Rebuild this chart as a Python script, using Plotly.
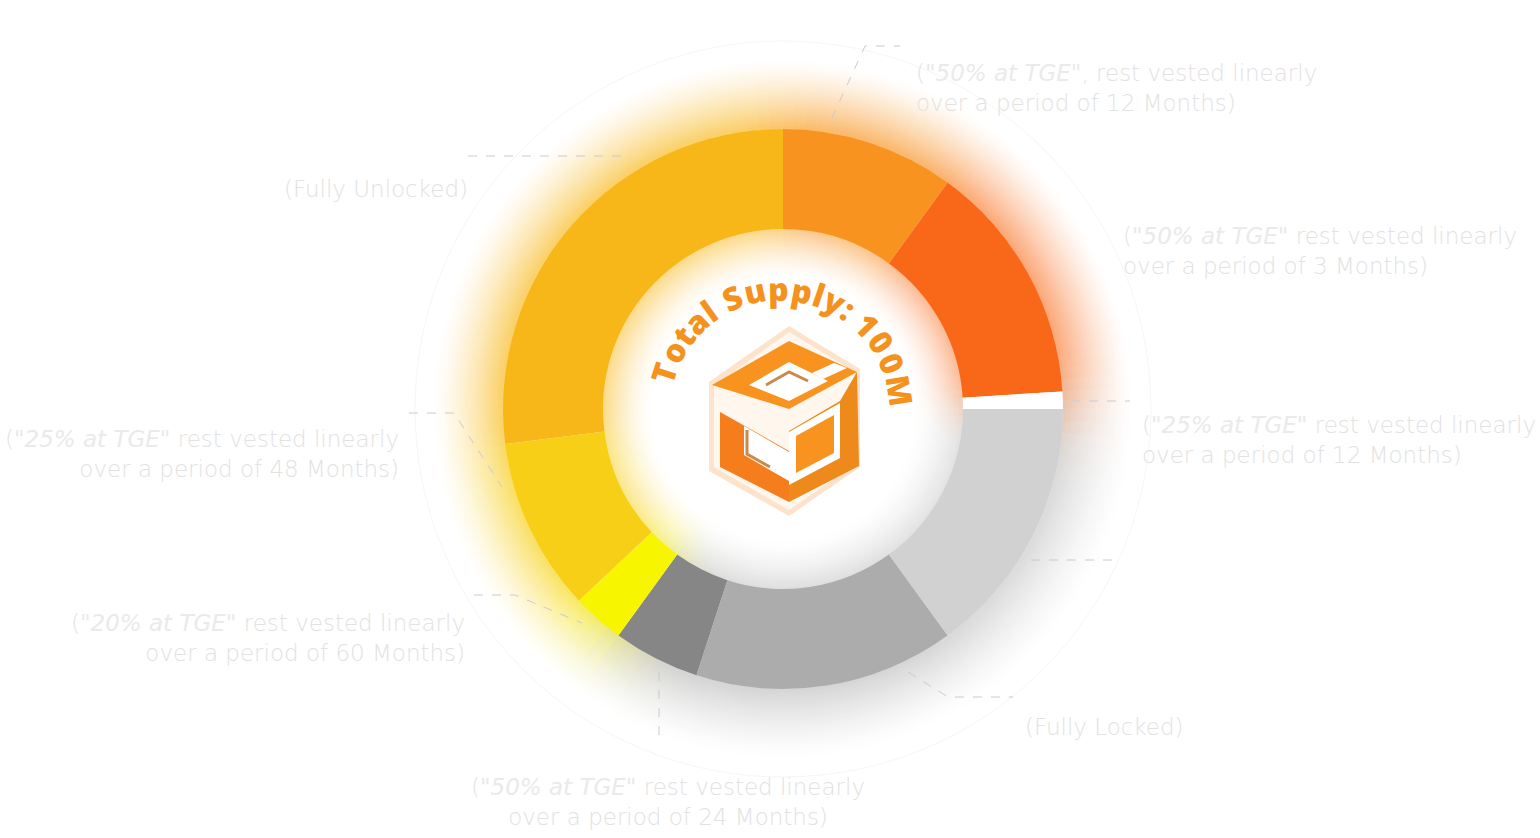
import math
import plotly.graph_objects as go

W, H = 1540, 838

# ---------------- data ----------------
values = [10, 14, 1, 15, 15, 5, 3, 10, 27]
colors = ["#F7931E", "#F96818", "#FFFFFF", "#D1D1D1", "#ACACAC",
          "#868686", "#F8F500", "#F7CF17", "#F8B719"]
vesting_labels = [
    '(<i>"50% at TGE"</i>, rest vested linearly<br>over a period of 12 Months)',
    '(<i>"50% at TGE"</i> rest vested linearly<br>over a period of 3 Months)',
    '(<i>"25% at TGE"</i> rest vested linearly<br>over a period of 12 Months)',
    '',
    '(Fully Locked)',
    '(<i>"50% at TGE"</i> rest vested linearly<br>over a period of 24 Months)',
    '(<i>"20% at TGE"</i> rest vested linearly<br>over a period of 60 Months)',
    '(<i>"25% at TGE"</i> rest vested linearly<br>over a period of 48 Months)',
    '(Fully Unlocked)',
]
center_title = "Total Supply: 100M"

# ---------------- styling / layout geometry ----------------
glow_colors = ["#F7931E", "#F97A30", "#FA9050", "#C8C8C8", "#C0C0C0",
               "#BBBBBB", "#F8F200", "#F7CF17", "#F8B719"]
CX, CY = 783, 409
R_OUT, R_IN = 280, 180

label_pos = [(914, 88, 'left'), (1121, 251, 'left'), (1140, 440, 'left'), None,
             (1023, 727, 'left'), (668, 802, 'center'), (467, 638, 'right'),
             (401, 454, 'right'), (470, 189, 'right')]
leaders = [
    [(832, 118), (865, 46), (900, 46)],
    None,
    [(1071, 401), (1130, 401)],
    [(1031, 560), (1117, 560)],
    [(908, 672), (948, 697), (1013, 697)],
    [(659, 672), (659, 740)],
    [(474, 595), (515, 595), (582, 623)],
    [(409, 413), (454, 413), (502, 487)],
    [(468, 156), (630, 156)],
]


def dom(r, cy=CY):
    return dict(x=[(CX - r) / W, (CX + r) / W],
                y=[(H - cy - r) / H, (H - cy + r) / H])


def hex2rgb(h):
    h = h.lstrip('#')
    return [int(h[0:2], 16), int(h[2:4], 16), int(h[4:6], 16)]


# ---- glow: each segment split into sub-slices, colours blurred along the ring
total = sum(values)
bounds = []
acc = 0
for v in values:
    bounds.append((acc / total * 360, (acc + v) / total * 360))
    acc += v


def seg_at(angle):
    angle %= 360
    for i, (a0, a1) in enumerate(bounds):
        if a0 <= angle < a1:
            return i
    return len(values) - 1


glow_vals, glow_rgb = [], []
BLUR = 18  # degrees
for i, v in enumerate(values):
    n = max(2, int(round(v * 1.5)))
    a0, a1 = bounds[i]
    for j in range(n):
        glow_vals.append(v / n)
        ac = a0 + (j + 0.5) * (a1 - a0) / n
        acc_rgb = [0.0, 0.0, 0.0]
        wsum = 0.0
        for d in range(-BLUR, BLUR + 1):
            wgt = math.exp(-(d / (BLUR / 2)) ** 2)
            c = hex2rgb(glow_colors[seg_at(ac + d)])
            for q in range(3):
                acc_rgb[q] += wgt * c[q]
            wsum += wgt
        glow_rgb.append([x / wsum for x in acc_rgb])


def tint(f):
    out = []
    for r, g, b in glow_rgb:
        out.append("rgb(%d,%d,%d)" % (round(255 + (r - 255) * f),
                                      round(255 + (g - 255) * f),
                                      round(255 + (b - 255) * f)))
    return out


fig = go.Figure()

base = dict(sort=False, direction='clockwise', rotation=0,
            textinfo='none', hoverinfo='skip', showlegend=False)

# outer glow: opaque thin annuli, fading to white
STEP = 2.5
N_OUT, EXT_OUT, F_OUT = 28, 70.0, 0.66
for k in range(N_OUT, 0, -1):
    r1 = R_OUT + k * STEP
    r0 = r1 - STEP
    d = (k - 0.5) * STEP
    f = F_OUT * max(0.0, 1 - d / EXT_OUT) ** 1.4
    cols = tint(f)
    fig.add_trace(go.Pie(values=glow_vals, **base, hole=r0 / r1, domain=dom(r1),
                         marker=dict(colors=cols, line=dict(color=cols, width=1))))
# inner glow
N_IN, EXT_IN, F_IN = 20, 50.0, 0.52
for k in range(1, N_IN + 1):
    r1 = R_IN - (k - 1) * STEP
    r0 = r1 - STEP
    d = (k - 0.5) * STEP
    f = F_IN * max(0.0, 1 - d / EXT_IN) ** 1.5
    cols = tint(f)
    fig.add_trace(go.Pie(values=glow_vals, **base, hole=r0 / r1, domain=dom(r1),
                         marker=dict(colors=cols, line=dict(color=cols, width=1))))
# main donut
fig.add_trace(go.Pie(values=values, **base, hole=R_IN / R_OUT, domain=dom(R_OUT),
                     marker=dict(colors=colors, line=dict(width=0))))

shapes = []
# faint outer circle
RC = 368
shapes.append(dict(type='circle', xref='x', yref='y', x0=CX - RC, x1=CX + RC,
                   y0=CY - RC, y1=CY + RC, line=dict(color='#F6F6F6', width=1),
                   layer='below'))

# leader lines
for pts in leaders:
    if not pts:
        continue
    p = "M " + " L ".join(f"{x},{y}" for x, y in pts)
    shapes.append(dict(type='path', xref='x', yref='y', path=p,
                       line=dict(color='#CACAD2', width=1, dash='dash'),
                       layer='above'))


def poly(pts, fill, layer='above'):
    p = "M " + " L ".join(f"{x},{y}" for x, y in pts) + " Z"
    return dict(type='path', xref='x', yref='y', path=p, fillcolor=fill,
                line=dict(width=0), layer=layer)


def line(pts, color, width):
    p = "M " + " L ".join(f"{x},{y}" for x, y in pts)
    return dict(type='path', xref='x', yref='y', path=p,
                line=dict(color=color, width=width), layer='above')


# logo (cube)
shapes += [
    poly([(789, 326), (860, 369), (860, 467), (789, 516), (709, 471), (709, 382)], '#FDE3CB'),
    poly([(789, 332), (855, 372), (855, 464), (789, 510), (714, 467), (714, 386)], '#FFF6EE'),
    poly([(712, 385), (789, 341), (857, 372), (789, 409)], '#F7931E'),
    poly([(749, 385), (789, 362), (828, 381), (789, 401)], '#FFFFFF'),
    poly([(812, 373), (834, 363), (847, 368), (823, 379)], '#FFFFFF'),
    line([(766, 385), (789, 372), (808, 381)], '#C98A4B', 3),
    poly([(720, 412), (789, 451), (789, 502), (720, 467)], '#F57D1C'),
    poly([(744, 426), (789, 452), (789, 481), (744, 455)], '#FFFFFF'),
    line([(747, 430), (747, 454), (770, 467)], '#C98A4B', 3),
    poly([(789, 431), (840, 401), (857, 372), (859, 466), (789, 502)], '#EE891C'),
    poly([(789, 432), (840, 403), (840, 458), (789, 485)], '#FFFFFF'),
    poly([(796, 436), (834, 415), (834, 453), (796, 473)], '#F7931E'),
]

annotations = []
# vesting labels
for txt, pos in zip(vesting_labels, label_pos):
    if not txt or pos is None:
        continue
    x, y, al = pos
    txt = txt.replace('<i>', '<i><span style="color:#EAEAEA">').replace('</i>', '</span></i>')
    annotations.append(dict(x=x, y=y, xref='x', yref='y', text=txt,
                            showarrow=False, xanchor=al, yanchor='middle',
                            align=al,
                            font=dict(family='DejaVu Sans', size=23, color='#E2E2E2',
                                      weight=200)))

# curved title
char_w = {'T': .6, 'o': .62, 't': .4, 'a': .6, 'l': .3, ' ': .26, 'S': .6,
          'u': .63, 'p': .64, 'y': .58, ':': .3, '1': .5, '0': .64, 'M': .86}
ws = [char_w.get(c, .6) for c in center_title]
cum = []
s = 0
for w in ws:
    cum.append(s + w / 2)
    s += w
TC_X, TC_Y, TR = 780, 410, 122
A0, A1 = -72.2, 80.7
for c, pos in zip(center_title, cum):
    if c == ' ':
        continue
    th = A0 + (pos - cum[0]) / (cum[-1] - cum[0]) * (A1 - A0)
    t = math.radians(th)
    annotations.append(dict(x=TC_X + TR * math.sin(t), y=TC_Y - TR * math.cos(t),
                            xref='x', yref='y', text=c, showarrow=False,
                            textangle=th, xanchor='center', yanchor='middle',
                            font=dict(family='Open Sans', size=32, weight=800,
                                      color='#F5921E')))

fig.update_layout(
    width=W, height=H, margin=dict(l=0, r=0, t=0, b=0),
    paper_bgcolor='white', plot_bgcolor='rgba(0,0,0,0)',
    xaxis=dict(range=[0, W], visible=False, fixedrange=True, domain=[0, 1]),
    yaxis=dict(range=[H, 0], visible=False, fixedrange=True, domain=[0, 1]),
    shapes=shapes, annotations=annotations,
)

fig.write_html("out.html")
